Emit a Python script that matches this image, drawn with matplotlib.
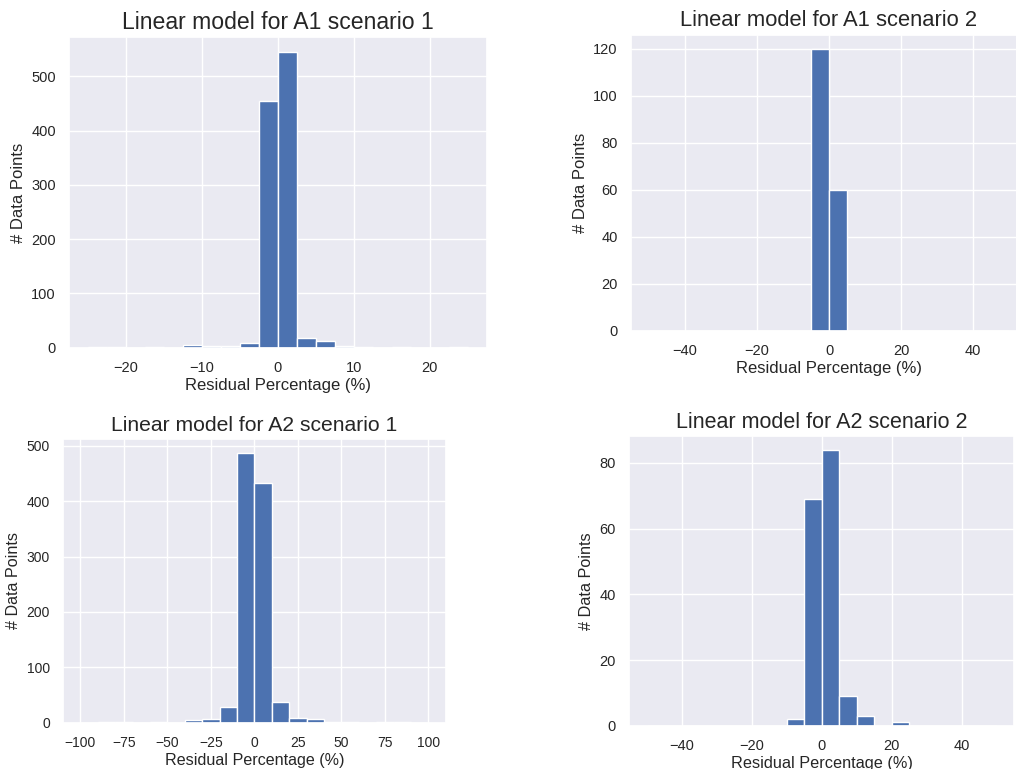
import numpy as np
import matplotlib.pyplot as plt
import seaborn as sns
from matplotlib.ticker import MultipleLocator

# bin counts
a1_s1_counts = [1, 1, 0, 1, 0, 5, 3, 3, 9, 455, 545, 18, 12, 3, 1, 0, 1, 0, 0, 1]
a1_s2_counts = [0, 0, 0, 0, 0, 0, 0, 0, 0, 120, 60, 0, 0, 0, 0, 0, 0, 0, 0, 0]
a2_s1_counts = [0, 1, 1, 0, 2, 0, 5, 7, 28, 488, 433, 38, 9, 6, 2, 1, 0, 2, 1, 0]
a2_s2_counts = [0, 0, 0, 0, 0, 0, 0, 0, 2, 69, 84, 9, 3, 0, 1, 0, 0, 0, 0, 0]

titles = ["Linear model for A1 scenario 1", "Linear model for A1 scenario 2",
          "Linear model for A2 scenario 1", "Linear model for A2 scenario 2"]
ranges = [25, 50, 100, 50]
x_steps = [10, 20, 25, 20]
y_steps = [100, 20, 100, 20]

sns.set_theme(style="darkgrid")
plt.rcParams['font.family'] = ['Liberation Sans', 'DejaVu Sans']

W, H = 1016, 769
fig = plt.figure(figsize=(W / 100, H / 100), dpi=100)


def px_axes(x0, x1, y0, y1):
    # axes box given in pixel coords (y from top)
    return fig.add_axes([x0 / W, 1 - y1 / H, (x1 - x0) / W, (y1 - y0) / H])


boxes = [(69, 486.7, 37.3, 347.7), (631, 1027, 34.7, 330.7),
         (63, 445.7, 439, 722.7), (629.3, 1014.5, 436, 725.7)]
title_sizes = [16.6, 15.8, 15.2, 15.5]
label_sizes = [12, 12, 11.6, 11.7]
tick_sizes = [10.5, 10.5, 10, 10.5]
all_counts = [a1_s1_counts, a1_s2_counts, a2_s1_counts, a2_s2_counts]

for i, counts in enumerate(all_counts):
    ax = px_axes(*boxes[i])
    r = ranges[i]
    edges = np.linspace(-r, r, len(counts) + 1)
    ax.hist(edges[:-1], bins=edges, weights=counts, color='#4c72b0',
            edgecolor='white', linewidth=1)
    ax.set_title(titles[i], fontsize=title_sizes[i])
    ax.set_xlabel("Residual Percentage (%)", fontsize=label_sizes[i], labelpad=2)
    ax.set_ylabel("# Data Points", fontsize=label_sizes[i])
    ax.xaxis.set_major_locator(MultipleLocator(x_steps[i]))
    ax.yaxis.set_major_locator(MultipleLocator(y_steps[i]))
    ax.set_xlim(-r * 1.1, r * 1.1)
    ax.tick_params(labelsize=tick_sizes[i])

plt.savefig("out.png", dpi=100)
